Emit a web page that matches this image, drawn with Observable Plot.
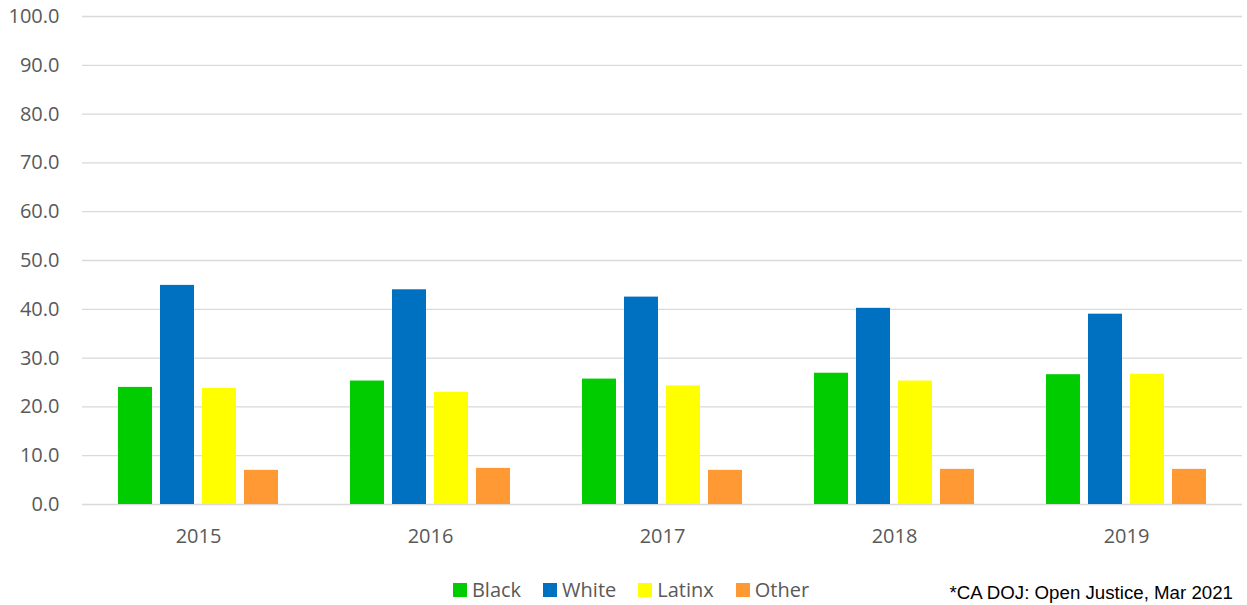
<!DOCTYPE html>
<html>
<head>
<meta charset="utf-8">
<script src="https://cdn.jsdelivr.net/npm/d3@7"></script>
<script src="https://cdn.jsdelivr.net/npm/@observablehq/plot@0.6"></script>
<style>
  html, body { margin: 0; padding: 0; background: #fff; }
  #wrap { position: relative; width: 1247px; height: 605px; overflow: hidden; }
  #legend { position: absolute; top: 576px; left: 0; width: 1262px; display: flex; justify-content: center; gap: 22px;
            font-family: "Open Sans", sans-serif; font-size: 20px; color: #595959; }
  #legend .item { display: flex; align-items: center; gap: 5px; }
  #legend .sw { width: 14px; height: 14px; display: inline-block; }
  #caption { position: absolute; top: 583px; right: 14px; font-family: "Liberation Sans", Arial, sans-serif;
             font-size: 18.7px; line-height: 20px; color: #000; white-space: nowrap; }
</style>
</head>
<body>
<div id="wrap">
  <div id="chart"></div>
  <div id="legend"></div>
  <div id="caption"></div>
</div>
<script>
const years = ["2015", "2016", "2017", "2018", "2019"];
const races = ["Black", "White", "Latinx", "Other"];
const black  = [24.0, 25.3, 25.7, 26.9, 26.6];
const white  = [44.9, 44.0, 42.5, 40.2, 39.0];
const latinx = [23.8, 23.0, 24.3, 25.3, 26.7];
const other  = [7.0, 7.4, 7.0, 7.2, 7.2];
const colors = ["#00CC00", "#0070C0", "#FFFF00", "#FF9933"];
const yTicks = [0, 10, 20, 30, 40, 50, 60, 70, 80, 90, 100];
const captionText = "*CA DOJ: Open Justice, Mar 2021";

const series = [black, white, latinx, other];
const data = [];
years.forEach((yr, i) => {
  races.forEach((r, j) => data.push({year: yr, race: r, value: series[j][i]}));
});

const chart = Plot.plot({
  width: 1247,
  height: 555,
  marginLeft: 82,
  marginRight: 5,
  marginTop: 16,
  marginBottom: 51,
  style: {fontFamily: "'Open Sans', sans-serif", fontSize: "20px", color: "#595959", background: "#fff"},
  fx: {domain: years, padding: 0, axis: "bottom", tickSize: 0, tickPadding: 24, label: null},
  x: {domain: races, axis: null, paddingInner: 0.2, paddingOuter: 0.86},
  y: {domain: [0, 100], ticks: yTicks, tickFormat: d3.format(".1f"), tickSize: 0, tickPadding: 23, label: null},
  color: {domain: races, range: colors},
  marks: [
    Plot.ruleY(yTicks, {stroke: "#d9d9d9", strokeWidth: 1.3}),
    Plot.barY(data, {fx: "year", x: "race", y: "value", fill: "race"})
  ]
});
document.getElementById("chart").appendChild(chart);

const legend = document.getElementById("legend");
races.forEach((r, i) => {
  const item = document.createElement("span");
  item.className = "item";
  const sw = document.createElement("span");
  sw.className = "sw";
  sw.style.background = colors[i];
  const t = document.createElement("span");
  t.textContent = r;
  item.appendChild(sw);
  item.appendChild(t);
  legend.appendChild(item);
});
document.getElementById("caption").textContent = captionText;
</script>
</body>
</html>
